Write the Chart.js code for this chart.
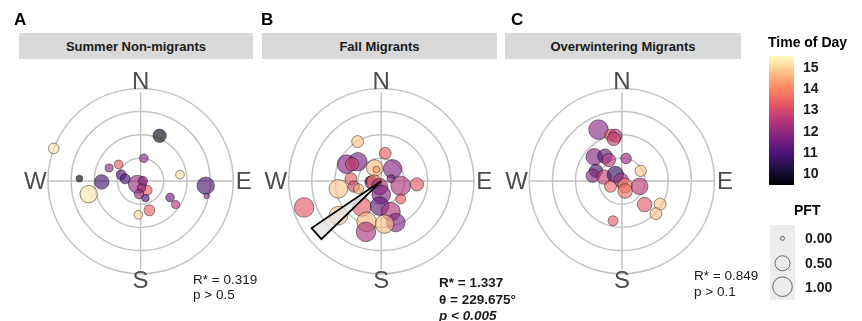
<!DOCTYPE html>
<html>
<head>
<meta charset="utf-8">
<script src="https://cdn.jsdelivr.net/npm/chart.js@4"></script>
<style>
  html, body { margin: 0; padding: 0; background: #fff; }
  #wrap { position: relative; width: 862px; height: 321px; overflow: hidden;
          font-family: "Liberation Sans", Arial, sans-serif; }
  #plot { position: absolute; left: 0; top: 0; }
  .txt { position: absolute; white-space: nowrap; line-height: 1; color: #1a1a1a; }
  .letter { font-weight: bold; font-size: 17px; color: #000; }
  .strip { position: absolute; top: 33px; height: 26px; background: #d9d9d9;
           display: flex; align-items: center; justify-content: center;
           font-weight: bold; font-size: 13px; color: #1a1a1a; }
  .stat { font-size: 13.5px; }
  .bold { font-weight: bold; }
  .legtitle { font-weight: bold; font-size: 14px; color: #000; }
  .legtick { font-weight: bold; font-size: 14px; color: #1a1a1a; }
</style>
</head>
<body>
<div id="wrap">
  <canvas id="plot" width="862" height="321"></canvas>

  <div class="txt letter" style="left:14px;top:11px">A</div>
  <div class="txt letter" style="left:261px;top:11px">B</div>
  <div class="txt letter" style="left:511px;top:11px">C</div>

  <div class="strip" style="left:19px;width:234px">Summer Non-migrants</div>
  <div class="strip" style="left:262px;width:235px">Fall Migrants</div>
  <div class="strip" style="left:505px;width:236px">Overwintering Migrants</div>

  <div class="txt stat" style="left:193px;top:273px">R* = 0.319</div>
  <div class="txt stat" style="left:193px;top:288px">p &gt; 0.5</div>

  <div class="txt stat bold" style="left:439px;top:276px">R* = 1.337</div>
  <div class="txt stat bold" style="left:439px;top:293px">θ = 229.675°</div>
  <div class="txt stat bold" style="left:439px;top:309px"><i>p &lt; 0.005</i></div>

  <div class="txt stat" style="left:694px;top:269px">R* = 0.849</div>
  <div class="txt stat" style="left:694px;top:285px">p &gt; 0.1</div>

  <div class="txt legtitle" style="left:768px;top:35px">Time of Day</div>
  <div class="txt legtitle" style="left:794px;top:203px">PFT</div>
  <div id="legendLabels"></div>
</div>

<script>
// ---- Summer non-migrants: position (east, north in ring units), time of day, PFT
const summerEast  = [-3.75, 0.82, -2.64, -1.68, -2.24, -1.36, -0.95, -0.84, -0.67, 0.14, 1.70, 2.81, 2.85, 1.27, 1.51, 0.38, -0.10, -0.14, 0.10, 0.28, 0.04, -0.07, 0.21];
const summerNorth = [1.47, 2.04, 0.11, -0.04, -0.59, 0.59, 0.75, 0.28, 0.10, 1.03, 0.29, -0.21, -0.67, -0.74, -1.06, -1.32, -1.52, -0.14, 0.00, -0.42, -0.31, -0.59, -0.77];
const summerTime  = [15.2, 9.6, 9.7, 10.7, 15.2, 11.8, 13.3, 10.9, 11.0, 11.8, 15.2, 10.8, 12.0, 11.2, 12.3, 13.4, 15.0, 12.0, 11.8, 13.3, 12.3, 12.0, 10.9];
const summerPft   = [0.18, 0.36, 0.03, 0.46, 0.74, 0.07, 0.09, 0.15, 0.15, 0.09, 0.09, 0.74, 0.01, 0.09, 0.07, 0.20, 0.09, 0.80, 0.12, 0.15, 0.07, 0.12, 0.05];

// ---- Fall migrants
const fallEast  = [-1.02, -1.50, -1.01, -1.26, -0.28, 0.17, 0.49, 0.42, -1.31, -1.85, -1.19, -0.98, -0.42, -0.50, -0.32, 0.84, 1.54, 0.84, -0.07, 0.00, -3.33, -1.85, -0.84, -0.63, -0.66, -0.07, 0.42, 0.63, 0.14, -0.21];
const fallNorth = [1.78, 0.76, 0.87, 0.76, 0.59, 1.25, 0.55, 0.10, 0.10, -0.35, -0.25, -0.35, -0.07, 0.02, -0.04, -0.22, -0.15, -0.81, -0.25, -0.60, -1.19, -1.56, -1.17, -1.84, -2.29, -1.13, -1.38, -1.87, -1.94, 0.52];
const fallTime  = [14.8, 11.7, 11.5, 12.8, 14.7, 13.3, 11.7, 11.5, 13.3, 14.8, 12.8, 14.5, 11.8, 11.6, 13.8, 12.3, 13.2, 13.3, 12.1, 11.6, 13.2, 14.8, 13.2, 14.6, 12.3, 11.2, 12.3, 11.7, 14.7, 14.3];
const fallPft   = [0.26, 0.88, 0.88, 0.36, 0.65, 0.26, 0.88, 0.07, 0.26, 0.88, 0.22, 0.15, 0.36, 0.07, 0.46, 1.00, 0.36, 0.15, 0.65, 0.88, 1.00, 0.88, 0.88, 1.00, 1.00, 0.88, 0.88, 0.88, 0.88, 0.03];

// ---- Overwintering migrants
const winterEast  = [-1.01, -0.48, -0.28, -0.35, -1.19, -0.73, -0.56, 0.18, 0.81, -1.12, -1.26, -0.77, -0.28, -0.03, -0.49, 0.14, 0.14, 0.77, 0.98, 1.65, 1.47, -0.38];
const winterNorth = [2.32, 2.07, 2.04, 1.90, 1.09, 1.12, 0.95, 1.02, 0.46, 0.46, 0.24, 0.18, 0.29, 0.03, -0.24, -0.20, -0.45, -0.24, -1.06, -1.04, -1.47, -1.79];
const winterTime  = [11.8, 13.2, 12.4, 12.8, 11.7, 11.2, 12.5, 12.0, 14.8, 10.8, 11.8, 12.7, 10.5, 12.2, 13.5, 13.8, 13.6, 12.6, 13.2, 14.8, 14.8, 13.3];
const winterPft   = [1.00, 0.26, 0.36, 0.36, 0.65, 0.46, 0.36, 0.18, 0.22, 0.36, 0.36, 0.46, 0.65, 0.46, 0.26, 0.46, 0.46, 0.65, 0.46, 0.26, 0.26, 0.15];

// Mean direction of fall migrants (bearing, degrees clockwise from north)
const fallMeanBearing = 229.675;
const fallMeanLength = 3.68;

// Colour scale limits and legend breaks
const timeMin = 9.43, timeMax = 15.52;
const timeTicks = [10, 11, 12, 13, 14, 15];
const pftBreaks = [0, 0.5, 1];

// ---- Styling / layout
const W = 862, H = 321;
const RING = 23.75;          // pixels per ring
const RINGS = [1, 2, 3, 4];
const panels = [
  { id: 'A', cx: 133.3, cy: 182.5 },
  { id: 'B', cx: 380.0, cy: 182.5 },
  { id: 'C', cx: 626.7, cy: 182.5 }
];
const colorBar = { x: 769, y: 56, w: 25, h: 129 };
const pftKey = { x: 770, y: 225, w: 25, h: 75, rows: [238.3, 263.3, 286.7] };
const POINT_ALPHA = 0.63;

const magmaStops = ['#000004', '#1c1044', '#4f127b', '#812581', '#b5367a', '#e55964', '#fb8761', '#fec287', '#fcfdbf'];
function hexRgb(h) { return [1, 3, 5].map(i => parseInt(h.substr(i, 2), 16)); }
const magmaRgb = magmaStops.map(hexRgb);
function magma(t) {
  t = Math.max(0, Math.min(1, t));
  const s = t * (magmaRgb.length - 1);
  const i = Math.min(Math.floor(s), magmaRgb.length - 2);
  const f = s - i;
  return magmaRgb[i].map((c, k) => Math.round(c + (magmaRgb[i + 1][k] - c) * f));
}
function timeColor(v, a) {
  const c = magma((v - timeMin) / (timeMax - timeMin));
  return `rgba(${c[0]},${c[1]},${c[2]},${a})`;
}
function pftRadius(p) { return 2 + 7.8 * Math.sqrt(Math.max(0, p)); }

function makeDataset(id, east, north, time, pft) {
  return {
    label: id,
    xAxisID: 'x' + id,
    yAxisID: 'y' + id,
    data: east.map((e, i) => ({ x: e, y: north[i] })),
    backgroundColor: time.map(t => timeColor(t, POINT_ALPHA)),
    borderColor: 'rgba(0,0,0,0.55)',
    borderWidth: 0.8,
    radius: ctx => pftRadius(pft[ctx.dataIndex]),
    hoverRadius: 0,
    hitRadius: 0
  };
}

const scales = {};
panels.forEach(p => {
  scales['x' + p.id] = { type: 'linear', display: false, min: -p.cx / RING, max: (W - p.cx) / RING };
  scales['y' + p.id] = { type: 'linear', display: false, min: -(H - p.cy) / RING, max: p.cy / RING };
});

function panelGeom(chart, id) {
  const xs = chart.scales['x' + id], ys = chart.scales['y' + id];
  return {
    px: v => xs.getPixelForValue(v),
    py: v => ys.getPixelForValue(v),
    unit: xs.getPixelForValue(1) - xs.getPixelForValue(0)
  };
}

const polarDecor = {
  id: 'polarDecor',
  beforeDatasetsDraw(chart) {
    const ctx = chart.ctx;
    ctx.save();
    panels.forEach(p => {
      const g = panelGeom(chart, p.id);
      const cx = g.px(0), cy = g.py(0);
      ctx.strokeStyle = '#c4c4c4';
      ctx.lineWidth = 1.5;
      RINGS.forEach(r => {
        ctx.beginPath();
        ctx.arc(cx, cy, r * g.unit, 0, Math.PI * 2);
        ctx.stroke();
      });
      const outer = RINGS[RINGS.length - 1];
      ctx.beginPath();
      ctx.moveTo(g.px(-outer), cy); ctx.lineTo(g.px(outer), cy);
      ctx.moveTo(cx, g.py(outer)); ctx.lineTo(cx, g.py(-outer));
      ctx.stroke();

      ctx.fillStyle = '#4d4d4d';
      ctx.font = '24px "Liberation Sans", Arial, sans-serif';
      ctx.textAlign = 'center';
      ctx.textBaseline = 'middle';
      const d = 4.5;
      ctx.fillText('N', cx, g.py(d) + 1);
      ctx.fillText('S', cx, g.py(-d) + 1);
      ctx.fillText('E', g.px(d - 0.05), cy + 1);
      ctx.fillText('W', g.px(-d - 0.05), cy + 1);
    });
    ctx.restore();
  },
  afterDatasetsDraw(chart) {
    const ctx = chart.ctx;
    ctx.save();
    // mean direction wedge for fall migrants
    const g = panelGeom(chart, 'B');
    const half = 5.1 * Math.PI / 180;
    const th = fallMeanBearing * Math.PI / 180;
    const L = fallMeanLength;
    const pts = [[0, 0], [L * Math.sin(th - half), L * Math.cos(th - half)], [L * Math.sin(th + half), L * Math.cos(th + half)]];
    ctx.beginPath();
    pts.forEach((q, i) => { const X = g.px(q[0]), Y = g.py(q[1]); i ? ctx.lineTo(X, Y) : ctx.moveTo(X, Y); });
    ctx.closePath();
    ctx.fillStyle = 'rgba(228,228,228,0.8)';
    ctx.fill();
    ctx.strokeStyle = '#000';
    ctx.lineWidth = 1.8;
    ctx.lineJoin = 'miter';
    ctx.stroke();

    // colour bar
    const grad = ctx.createLinearGradient(0, colorBar.y + colorBar.h, 0, colorBar.y);
    magmaStops.forEach((c, i) => grad.addColorStop(i / (magmaStops.length - 1), c));
    ctx.fillStyle = grad;
    ctx.fillRect(colorBar.x, colorBar.y, colorBar.w, colorBar.h);

    // PFT size key
    ctx.fillStyle = '#ececec';
    ctx.fillRect(pftKey.x, pftKey.y, pftKey.w, pftKey.h);
    ctx.strokeStyle = 'rgba(0,0,0,0.55)';
    ctx.lineWidth = 1;
    pftBreaks.forEach((b, i) => {
      ctx.beginPath();
      ctx.arc(pftKey.x + pftKey.w / 2, pftKey.rows[i], pftRadius(b), 0, Math.PI * 2);
      ctx.stroke();
    });
    ctx.restore();
  }
};

new Chart(document.getElementById('plot'), {
  type: 'bubble',
  data: {
    datasets: [
      makeDataset('A', summerEast, summerNorth, summerTime, summerPft),
      makeDataset('B', fallEast, fallNorth, fallTime, fallPft),
      makeDataset('C', winterEast, winterNorth, winterTime, winterPft)
    ]
  },
  options: {
    responsive: false,
    animation: false,
    devicePixelRatio: 1,
    layout: { padding: 0 },
    events: [],
    scales: scales,
    plugins: { legend: { display: false }, tooltip: { enabled: false } }
  },
  plugins: [polarDecor]
});

// legend text
const lab = document.getElementById('legendLabels');
timeTicks.forEach(v => {
  const y = colorBar.y + (timeMax - v) / (timeMax - timeMin) * colorBar.h;
  const el = document.createElement('div');
  el.className = 'txt legtick';
  el.style.left = '803px';
  el.style.top = (y - 7) + 'px';
  el.textContent = String(v);
  lab.appendChild(el);
});
pftBreaks.forEach((b, i) => {
  const el = document.createElement('div');
  el.className = 'txt legtick';
  el.style.left = '805px';
  el.style.top = (pftKey.rows[i] - 7) + 'px';
  el.textContent = b.toFixed(2);
  lab.appendChild(el);
});
</script>
</body>
</html>
